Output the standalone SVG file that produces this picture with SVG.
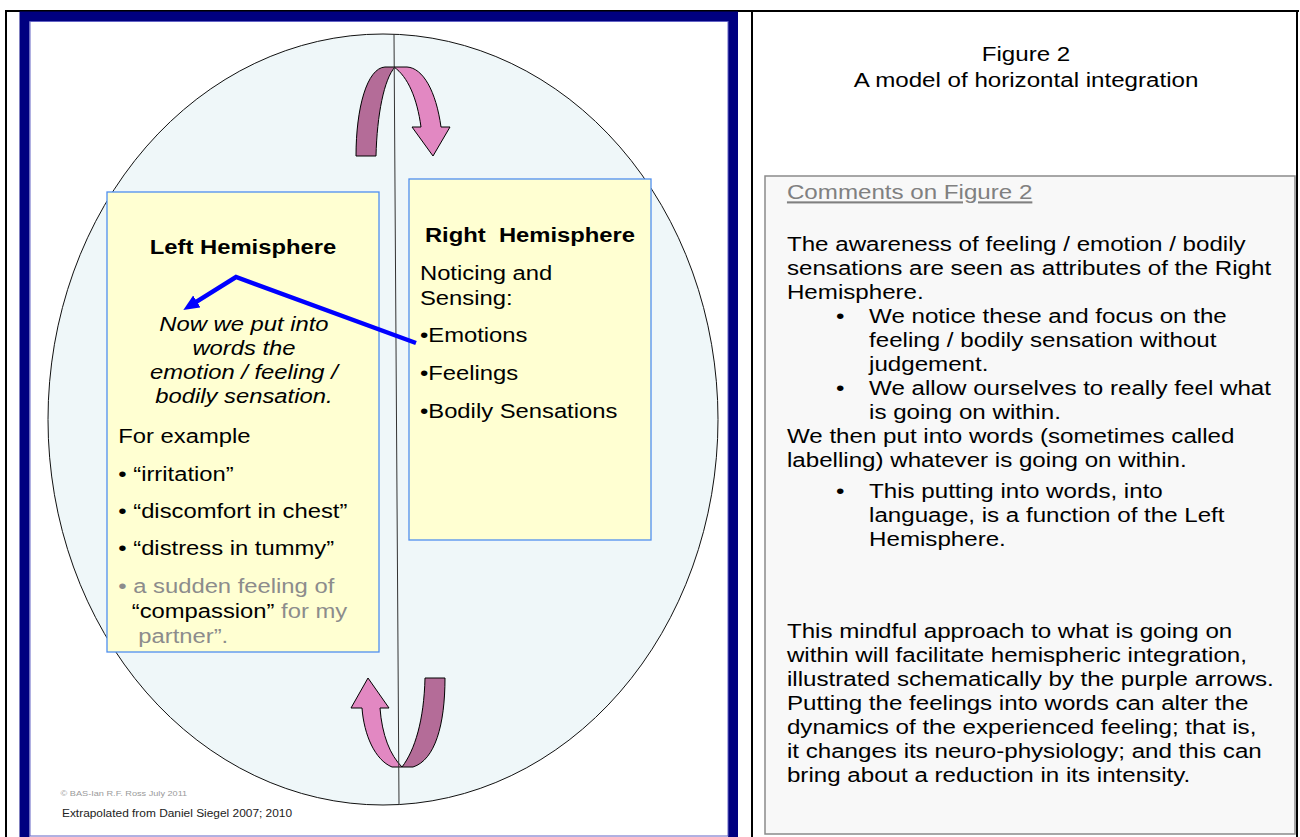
<svg xmlns="http://www.w3.org/2000/svg" width="1300" height="837" viewBox="0 0 1300 837">
<style>
.t{font-family:"Liberation Sans",Arial,Helvetica,sans-serif;}
.d{font-size:20px;fill:#000;}
.bo{font-weight:bold;}
.it{font-style:italic;}
.gr{fill:#8c8c8c;}
.p{font-size:21px;fill:#000;}
.box{fill:#ffffd2;stroke:#4f8ff0;stroke-width:1.3;}
.dk{fill:#b46c98;stroke:#000;stroke-width:1;}
.pk{fill:#e288c2;stroke:#000;stroke-width:1;}
</style>
<defs>
<marker id="ah" markerUnits="userSpaceOnUse" markerWidth="18" markerHeight="16" refX="6" refY="7" orient="auto">
<path d="M0,0 L16,7 L0,14 Z" fill="#0000ff"/>
</marker>
</defs>
<rect x="0" y="0" width="1300" height="837" fill="#fff"/>
<g id="table" stroke="#000" stroke-width="2" fill="none">
<line x1="5" y1="11" x2="1299" y2="11"/>
<line x1="6" y1="10" x2="6" y2="837"/>
<line x1="752" y1="10" x2="752" y2="837"/>
<line x1="1297" y1="10" x2="1297" y2="837"/>
</g>
<g id="frame">
<rect x="24.5" y="16.5" width="708.5" height="830" fill="#fff" stroke="#000080" stroke-width="10"/>
<rect x="30" y="21.5" width="698" height="814.5" fill="none" stroke="#6262c4" stroke-width="1"/>
</g>
<g id="brain">
<ellipse cx="383" cy="419.5" rx="335" ry="385.5" fill="#eff7f9" stroke="#111" stroke-width="1"/>
</g>
<g id="arrow-top">
<path class="dk" d="M356,156 C356,108 367,68 385,67 L395,67 C384,79 377,115 376,156 Z"/>
<path class="pk" d="M394,67 L407,67 C423,68 436,91 441,127 L450,127 L433,156 L412,127 L421,127 C417,98 408,77 394,67 Z"/>
</g>
<g id="arrow-bottom">
<path class="pk" d="M368,678 L389,708 L380,708 C382,735 390,755 402,767 L392,767 C375,760 364,735 362,708 L351,708 Z"/>
<path class="dk" d="M425,678 L445,678 C445,725 435,760 413,767 L402,767 C415,750 424,720 425,678 Z"/>
</g>
<g id="midline">
<line x1="394" y1="34" x2="399" y2="805" stroke="#333" stroke-width="1"/>
</g>
<g id="left-hemisphere">
<rect class="box" x="107" y="192" width="272" height="460"/>
<g transform="scale(1.19 1)" class="t d">
<text class="bo" x="204.2" y="254" text-anchor="middle">Left Hemisphere</text>
<text class="it" x="205" y="330.7" text-anchor="middle">Now we put into</text>
<text class="it" x="205" y="355" text-anchor="middle">words the</text>
<text class="it" x="205" y="379.3" text-anchor="middle">emotion / feeling /</text>
<text class="it" x="205" y="403.3" text-anchor="middle">bodily sensation.</text>
<text x="99.4" y="442.7">For example</text>
<text x="99.4" y="480.7">• “irritation”</text>
<text x="99.4" y="518.3">• “discomfort in chest”</text>
<text x="99.4" y="555">• “distress in tummy”</text>
<text class="gr" x="99.4" y="593.3">• a sudden feeling of</text>
<text x="110.7" y="618.3">“compassion”<tspan class="gr"> for my</tspan></text>
<text class="gr" x="116.2" y="642.7">partner”.</text>
</g>
</g>
<g id="right-hemisphere">
<rect class="box" x="409" y="179" width="242" height="361"/>
<g transform="scale(1.19 1)" class="t d">
<text class="bo" x="357.1" y="242.3">Right&#160; Hemisphere</text>
<text x="352.9" y="280">Noticing and</text>
<text x="352.9" y="305">Sensing:</text>
<text x="352.9" y="341.7">•Emotions</text>
<text x="352.9" y="380">•Feelings</text>
<text x="352.9" y="418">•Bodily Sensations</text>
</g>
</g>
<g id="connectors">
<polyline points="416,343 236,277 191.8,304.7" fill="none" stroke="#0000ff" stroke-width="4.5" stroke-linejoin="miter" marker-end="url(#ah)"/>
</g>
<g id="credits" transform="scale(1.19 1)" class="t">
<text x="50.9" y="796" font-size="7.7" fill="#9a9a9a">© BAS-Ian R.F. Ross July 2011</text>
<text x="52.1" y="817" font-size="10" fill="#222">Extrapolated from Daniel Siegel 2007; 2010</text>
</g>
<g id="title" class="t p" transform="scale(1.15 1)">
<text x="892.2" y="61.5" text-anchor="middle">Figure 2</text>
<text x="892.2" y="87.5" text-anchor="middle">A model of horizontal integration</text>
</g>
<g id="comments">
<rect x="765" y="176" width="530" height="658" fill="#f8f8f8" stroke="#8a8a8a" stroke-width="1.5"/>
<g class="t p" transform="scale(1.15 1)">
<text x="684.3" y="199.5" style="fill:#808080" text-decoration="underline">Comments on Figure 2</text>
<text x="684.3" y="251.5">The awareness of feeling / emotion / bodily</text>
<text x="684.3" y="275.5">sensations are seen as attributes of the Right</text>
<text x="684.3" y="299.5">Hemisphere.</text>
<text x="727" y="323.5">•</text><text x="755.7" y="323.5">We notice these and focus on the</text>
<text x="755.7" y="347.5">feeling / bodily sensation without</text>
<text x="755.7" y="371">judgement.</text>
<text x="727" y="395.5">•</text><text x="755.7" y="395.5">We allow ourselves to really feel what</text>
<text x="755.7" y="419">is going on within.</text>
<text x="684.3" y="443.5">We then put into words (sometimes called</text>
<text x="684.3" y="467">labelling) whatever is going on within.</text>
<text x="727" y="498.5">•</text><text x="755.7" y="498.5">This putting into words, into</text>
<text x="755.7" y="522.5">language, is a function of the Left</text>
<text x="755.7" y="546.5">Hemisphere.</text>
<text x="684.3" y="638.5">This mindful approach to what is going on</text>
<text x="684.3" y="662.5">within will facilitate hemispheric integration,</text>
<text x="684.3" y="686.5">illustrated schematically by the purple arrows.</text>
<text x="684.3" y="710.5">Putting the feelings into words can alter the</text>
<text x="684.3" y="734.5">dynamics of the experienced feeling; that is,</text>
<text x="684.3" y="758.5">it changes its neuro-physiology; and this can</text>
<text x="684.3" y="782.5">bring about a reduction in its intensity.</text>
</g>
</g>
</svg>
